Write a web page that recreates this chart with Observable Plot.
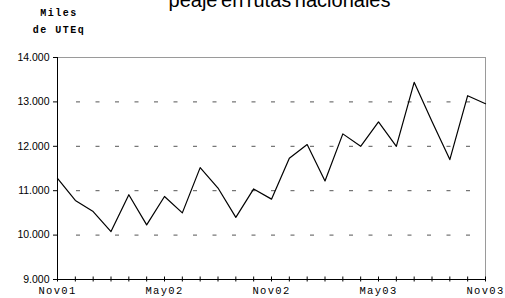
<!DOCTYPE html>
<html>
<head>
<meta charset="utf-8">
<script src="https://cdn.jsdelivr.net/npm/d3@7"></script>
<script src="https://cdn.jsdelivr.net/npm/@observablehq/plot@0.6"></script>
<style>
  html, body { margin: 0; padding: 0; background: white; }
  #chart { width: 505px; height: 298px; overflow: hidden; }
</style>
</head>
<body>
<div id="chart"></div>
<script>
const months = ["Nov01","Dic01","Ene02","Feb02","Mar02","Abr02","May02","Jun02","Jul02","Ago02","Sep02","Oct02",
                "Nov02","Dic02","Ene03","Feb03","Mar03","Abr03","May03","Jun03","Jul03","Ago03","Sep03","Oct03","Nov03"];
const values = [11280, 10780, 10530, 10080, 10910, 10230, 10870, 10500, 11520, 11060, 10400, 11040,
                10810, 11730, 12040, 11220, 12280, 12000, 12550, 12000, 13440, 12560, 11700, 13140, 12960];
const labelMonths = ["Nov01","May02","Nov02","May03","Nov03"];
const yTicks = [9000, 10000, 11000, 12000, 13000, 14000];
const gridTicks = [10000, 11000, 12000, 13000];
const yDomain = [9000, 14000];
const titleText = "peaje en rutas nacionales";
const unitLines = ["Miles", "de UTEq"];

const data = months.map((m, i) => ({i, m, v: values[i]}));
const xDomain = [0, months.length - 1];
const labelIdx = labelMonths.map(m => months.indexOf(m));
const fmt = d => d3.format(",")(d).replace(/,/g, ".");

const chart = Plot.plot({
  width: 505,
  height: 298,
  marginLeft: 57,
  marginRight: 20,
  marginTop: 57,
  marginBottom: 19,
  style: {background: "white", color: "black"},
  x: {type: "linear", domain: xDomain},
  y: {domain: yDomain},
  marks: [
    Plot.frame({stroke: "#9a9a9a", strokeWidth: 1}),
    Plot.gridY(gridTicks, {stroke: "#555", strokeOpacity: 1, strokeWidth: 1, strokeDasharray: "4,15.5", insetLeft: 19, insetRight: 14}),
    Plot.ruleX([xDomain[0]], {stroke: "black", strokeWidth: 1}),
    Plot.ruleY([yDomain[0]], {stroke: "black", strokeWidth: 1}),
    Plot.line(data, {x: "i", y: "v", stroke: "black", strokeWidth: 1.2}),
    Plot.axisY({ticks: yTicks, tickSize: 4, tickPadding: 4, tickFormat: fmt, fontSize: 10.5, fontFamily: "Liberation Sans, Arial, sans-serif", label: null}),
    Plot.axisX({ticks: d3.range(months.length), tickSize: 5, dy: -2.5, tickFormat: () => "", label: null}),
    Plot.axisX({ticks: labelIdx, tickSize: 0, tickPadding: 7.5, tickFormat: i => months[i], fontSize: 10.5, fontFamily: "Liberation Mono, Courier New, monospace", label: null})
  ]
});

const svg = d3.select(chart);
svg.selectAll("g[aria-label='x-axis tick label'] text").style("letter-spacing", "1.3px");

svg.append("text")
  .attr("x", 279.5).attr("y", 7)
  .attr("text-anchor", "middle")
  .style("font-family", "Liberation Sans, Arial, sans-serif")
  .style("font-size", "20px")
  .style("word-spacing", "-2px")
  .attr("fill", "black")
  .text(titleText);

svg.append("text")
  .attr("x", 59).attr("y", 16)
  .attr("text-anchor", "middle")
  .style("font-family", "Liberation Mono, Courier New, monospace")
  .style("font-size", "10px").style("font-weight", "bold").style("letter-spacing", "1.5px")
  .attr("fill", "black")
  .text(unitLines[0]);

svg.append("text")
  .attr("x", 59).attr("y", 33)
  .attr("text-anchor", "middle")
  .style("font-family", "Liberation Mono, Courier New, monospace")
  .style("font-size", "10px").style("font-weight", "bold").style("letter-spacing", "1.5px")
  .attr("fill", "black")
  .text(unitLines[1]);

document.getElementById("chart").appendChild(chart);
</script>
</body>
</html>
